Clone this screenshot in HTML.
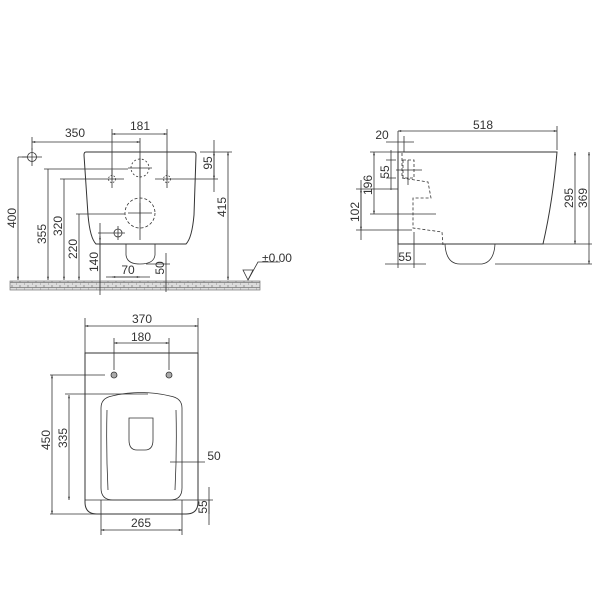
<!DOCTYPE html>
<html><head><meta charset="utf-8"><style>
html,body{margin:0;padding:0;background:#fff;}
svg{display:block;}
text{font-family:"Liberation Sans",sans-serif;font-size:12px;fill:#333;}
</style></head><body>
<svg width="600" height="600" viewBox="0 0 600 600" xmlns="http://www.w3.org/2000/svg">
<defs>
<pattern id="brick" width="8" height="5" patternUnits="userSpaceOnUse">
<rect width="8" height="5" fill="#dcdcdc"/>
<path d="M0 2.5H8M4 0V2.5M0 2.5V5" stroke="#777" stroke-width="0.7" fill="none"/>
</pattern>
<marker id="a" viewBox="0 0 10 10" refX="10" refY="5" markerWidth="6" markerHeight="4" orient="auto-start-reverse"><path d="M0 2L10 5L0 8z" fill="#333"/></marker>
</defs>
<g stroke="#333" stroke-width="0.8" fill="none">
<!-- ===== FRONT VIEW ===== -->
<rect x="10" y="281" width="250" height="9" fill="url(#brick)" stroke="#777" stroke-width="0.7"/>
<path d="M86 152 L194 152 Q196 152 196 155 L194 215 Q192 238 186 244 L96 244 Q90 238 88 215 L84 155 Q84 152 86 152Z" stroke-width="1"/>
<path d="M126 244 L126 255 Q127 264 140 264 Q154 264 155 255 L155 244"/>
<circle cx="32" cy="157" r="4.5"/><path d="M22 157H42M32 148V166"/>
<circle cx="140" cy="168" r="9" stroke-dasharray="2 2"/><path d="M128 168H152M140 158V178"/>
<circle cx="112" cy="179" r="3.5" stroke-dasharray="1.5 1.5"/><path d="M100 179H124M112 170V188"/>
<circle cx="167" cy="179" r="3.5" stroke-dasharray="1.5 1.5"/><path d="M155 179H179M167 170V188"/>
<circle cx="140" cy="213" r="15" stroke-dasharray="3 2"/><path d="M128 213H152M140 203V223"/>
<circle cx="118" cy="233" r="4"/><path d="M98 233H125M118 226V240"/>
<path d="M18 157H28M44 169H128M60 179H100M76 214H125M179 179H218M200 152H232M146 264H170"/>
<path d="M112 129V180M167 129V180M140 138V240M32 137V150"/>
<path d="M32 142H140" marker-start="url(#a)" marker-end="url(#a)"/>
<path d="M112 134H167" marker-start="url(#a)" marker-end="url(#a)"/>
<path d="M18 157V280" marker-end="url(#a)"/>
<path d="M48 169V280" marker-end="url(#a)"/>
<path d="M64 179V280" marker-end="url(#a)"/>
<path d="M79 214V280" marker-end="url(#a)"/>
<path d="M100 223V295"/><path d="M100 280V236" marker-end="url(#a)"/>
<path d="M106 277H150"/><path d="M112 277H140" marker-start="url(#a)" marker-end="url(#a)"/>
<path d="M166 253V292"/>
<path d="M228 152V280" marker-start="url(#a)" marker-end="url(#a)"/>
<path d="M214 140V192"/><path d="M214 152V179" marker-start="url(#a)" marker-end="url(#a)"/>
<path d="M243 270L253 270L248 280Z"/><path d="M248 280L258 262H280"/>
<!-- ===== SIDE VIEW ===== -->
<path d="M398 152H557 Q553 200 543 244 H398Z" stroke-width="1"/>
<path d="M445 244 Q446 264 460 264 H482 Q494 262 495 244"/>
<g stroke-dasharray="3 2">
<path d="M402 153V178L428 182L431 198L413 198L413 228L442 232L443 245"/>
<rect x="403" y="160" width="11" height="18"/>
</g>
<path d="M396 170H422M408 160V185"/>
<path d="M398 131V150M557 126V150M398 136V160M404 136V152"/>
<path d="M398 131H557" marker-start="url(#a)" marker-end="url(#a)"/>
<path d="M386 142H414"/>
<path d="M370 152H398M370 214H436M356 189H398M356 230H412M543 244H592M495 264H592"/>
<path d="M374 152V214" marker-start="url(#a)" marker-end="url(#a)"/>
<path d="M391 150V190M386 160H396M386 178H396"/>
<path d="M361 180V240"/><path d="M361 189V230" marker-start="url(#a)" marker-end="url(#a)"/>
<path d="M575 152V244" marker-start="url(#a)" marker-end="url(#a)"/>
<path d="M589 152V264" marker-start="url(#a)" marker-end="url(#a)"/>
<path d="M398 244V268M414 232V268"/>
<path d="M385 264H426"/>
<!-- ===== PLAN VIEW ===== -->
<path d="M85 353H198V502 Q198 514 186 514 H97 Q85 514 85 502Z" stroke-width="1"/>
<path d="M101 408 Q101 398 112 396 Q141 389 170 396 Q182 398 182 408 V488 Q182 500 170 500 H113 Q101 500 101 488Z"/>
<path d="M107 410 Q106 450 108 490 M176 410 Q177 450 175 490"/>
<path d="M129 418H153V440 Q153 450 145 450H137 Q129 450 129 440Z"/>
<circle cx="114" cy="375" r="3" fill="#aaa"/><circle cx="169" cy="375" r="3" fill="#aaa"/>
<path d="M85 318V353M198 318V353M114 338V370M169 338V370"/>
<path d="M85 326H198" marker-start="url(#a)" marker-end="url(#a)"/>
<path d="M114 343H169" marker-start="url(#a)" marker-end="url(#a)"/>
<path d="M50 375H105M65 394H148M85 500H213M50 514H100M101 500V535M182 500V535"/>
<path d="M52 375V514" marker-start="url(#a)" marker-end="url(#a)"/>
<path d="M69 395V500" marker-start="url(#a)" marker-end="url(#a)"/>
<path d="M170 462H205"/>
<path d="M209 487V525"/><path d="M209 500V514"/>
<path d="M101 530H182" marker-start="url(#a)" marker-end="url(#a)"/>
</g>
<g stroke="none">
<text x="75" y="137" text-anchor="middle">350</text>
<text x="140" y="130" text-anchor="middle">181</text>
<text x="128" y="274" text-anchor="middle">70</text>
<text x="262" y="262" font-size="9">±0.00</text>
<text transform="translate(16,218) rotate(-90)" text-anchor="middle">400</text>
<text transform="translate(46,234) rotate(-90)" text-anchor="middle">355</text>
<text transform="translate(62,226) rotate(-90)" text-anchor="middle">320</text>
<text transform="translate(77,249) rotate(-90)" text-anchor="middle">220</text>
<text transform="translate(98,262) rotate(-90)" text-anchor="middle">140</text>
<text transform="translate(164,268) rotate(-90)" text-anchor="middle">50</text>
<text transform="translate(226,207) rotate(-90)" text-anchor="middle">415</text>
<text transform="translate(212,163) rotate(-90)" text-anchor="middle">95</text>
<text x="483" y="129" text-anchor="middle">518</text>
<text x="382" y="139" text-anchor="middle">20</text>
<text x="405" y="261" text-anchor="middle">55</text>
<text transform="translate(372,185) rotate(-90)" text-anchor="middle">196</text>
<text transform="translate(389,172) rotate(-90)" text-anchor="middle">55</text>
<text transform="translate(359,212) rotate(-90)" text-anchor="middle">102</text>
<text transform="translate(573,198) rotate(-90)" text-anchor="middle">295</text>
<text transform="translate(587,198) rotate(-90)" text-anchor="middle">369</text>
<text x="142" y="323" text-anchor="middle">370</text>
<text x="141" y="341" text-anchor="middle">180</text>
<text x="214" y="460" text-anchor="middle">50</text>
<text x="141" y="527" text-anchor="middle">265</text>
<text transform="translate(50,440) rotate(-90)" text-anchor="middle">450</text>
<text transform="translate(67,438) rotate(-90)" text-anchor="middle">335</text>
<text transform="translate(207,507) rotate(-90)" text-anchor="middle">55</text>
</g>
</svg>
</body></html>
